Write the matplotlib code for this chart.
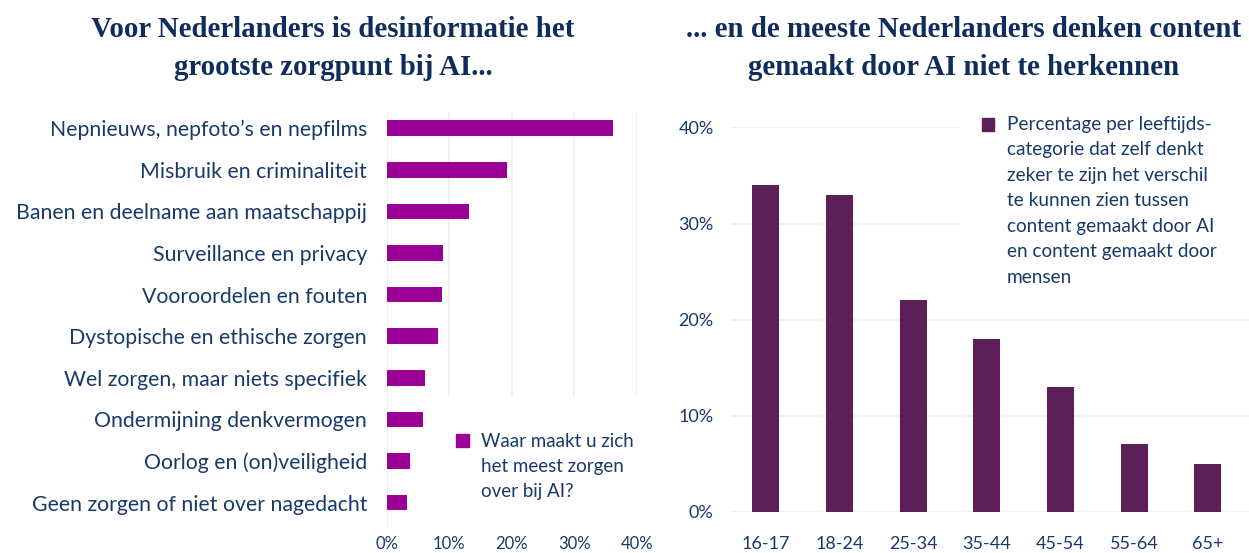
import numpy as np
import matplotlib.pyplot as plt
from matplotlib.patches import Rectangle

# left chart: main concerns about AI
concerns = ["Nepnieuws, nepfoto’s en nepfilms", "Misbruik en criminaliteit",
            "Banen en deelname aan maatschappij", "Surveillance en privacy",
            "Vooroordelen en fouten", "Dystopische en ethische zorgen",
            "Wel zorgen, maar niets specifiek", "Ondermijning denkvermogen",
            "Oorlog en (on)veiligheid", "Geen zorgen of niet over nagedacht"]
concern_pct = [36.2, 19.3, 13.2, 9.1, 8.9, 8.3, 6.2, 5.9, 3.8, 3.2]
left_ticks = [0, 10, 20, 30, 40]
left_legend = ["Waar maakt u zich", "het meest zorgen", "over bij AI?"]
left_title = ["Voor Nederlanders is desinformatie het", "grootste zorgpunt bij AI..."]

# right chart: confident to recognise AI content, per age group
ages = ["16-17", "18-24", "25-34", "35-44", "45-54", "55-64", "65+"]
age_pct = [34, 33, 22, 18, 13, 7, 5]
right_ticks = [0, 10, 20, 30, 40]
right_legend = ["Percentage per leeftijds-", "categorie dat zelf denkt",
                "zeker te zijn het verschil", "te kunnen zien tussen",
                "content gemaakt door AI", "en content gemaakt door", "mensen"]
right_title = ["... en de meeste Nederlanders denken content",
               "gemaakt door AI niet te herkennen"]

navy = "#183a6b"
title_navy = "#0e2d5c"
grid = "#efefef"
magenta = "#9b0096"
plum = "#5c1f57"
sans = "Lato"
serif = "Liberation Serif"

W, H = 1249, 553
fig = plt.figure(figsize=(W / 100, H / 100), dpi=100)

def box(x0, y0, x1, y1):
    # pixel box (top-left origin) -> figure fraction
    return [x0 / W, 1 - y1 / H, (x1 - x0) / W, (y1 - y0) / H]

def fx(x):
    return x / W

def fy(y):
    return 1 - y / H

def title(cx, lines):
    for i, line in enumerate(lines):
        fig.text(fx(cx), fy(37 + 38 * i), line, ha="center", va="baseline",
                 fontsize=20.8, fontweight="bold", family=serif, color=title_navy)

def legend(cover, mark, tx, base, step, lines, color, size):
    # white block hiding the gridlines, a square and the wrapped label
    x0, y0, x1, y1 = cover
    fig.patches.append(Rectangle((fx(x0), fy(y1)), fx(x1 - x0), (y1 - y0) / H,
                                 transform=fig.transFigure, color="white", zorder=3))
    mx, my, ms = mark
    fig.patches.append(Rectangle((fx(mx), fy(my + ms)), fx(ms), ms / H,
                                 transform=fig.transFigure, color=color, zorder=4))
    for i, line in enumerate(lines):
        fig.text(fx(tx), fy(base + step * i), line, ha="left", va="baseline",
                 fontsize=size, family=sans, color=navy, zorder=5)

# ---------- left
ax1 = fig.add_axes(box(386.5, 112, 636.7, 526.7))
y = np.arange(len(concerns))
ax1.barh(y, concern_pct, height=0.377, color=magenta, zorder=2)
ax1.set_ylim(len(concerns) - 1 + 0.58, -0.39)
ax1.set_xlim(0, 40)
ax1.set_yticks(y)
ax1.set_yticklabels(concerns, fontsize=15.3, color=navy, family=sans)
ax1.set_xticks(left_ticks)
ax1.set_xticklabels([f"{t}%" for t in left_ticks], fontsize=12, color=navy, family=sans)
ax1.tick_params(length=0)
ax1.tick_params(axis="y", pad=14)
ax1.tick_params(axis="x", pad=7)
for s in ax1.spines.values():
    s.set_visible(False)
ax1.xaxis.grid(True, color=grid, lw=1.2, zorder=0)
ax1.set_axisbelow(True)
legend((440, 397, 660, 528), (456, 434, 12.5), 480.7, 446.7, 25,
       left_legend, magenta, 13.5)
title(333, left_title)

# ---------- right
ax2 = fig.add_axes(box(731, 127.5, 1249, 511.7))
x = np.arange(len(ages))
ax2.bar(x, age_pct, width=0.367, color=plum, zorder=2)
ax2.set_xlim(-0.472, 6.56)
ax2.set_ylim(0, 40)
ax2.set_xticks(x)
ax2.set_xticklabels(ages, fontsize=13, color=navy, family=sans)
ax2.set_yticks(right_ticks)
ax2.set_yticklabels([f"{t}%" for t in right_ticks], fontsize=13, color=navy, family=sans)
ax2.tick_params(length=0)
ax2.tick_params(axis="y", pad=12.5)
ax2.tick_params(axis="x", pad=17.5)
for s in ax2.spines.values():
    s.set_visible(False)
ax2.yaxis.grid(True, color=grid, lw=1.2, zorder=0)
ax2.set_axisbelow(True)
legend((959, 108, 1249, 300), (982.3, 118.5, 12), 1006.7, 130, 25.5,
       right_legend, plum, 13.7)
title(964, right_title)

fig.savefig("out.png", dpi=100)
